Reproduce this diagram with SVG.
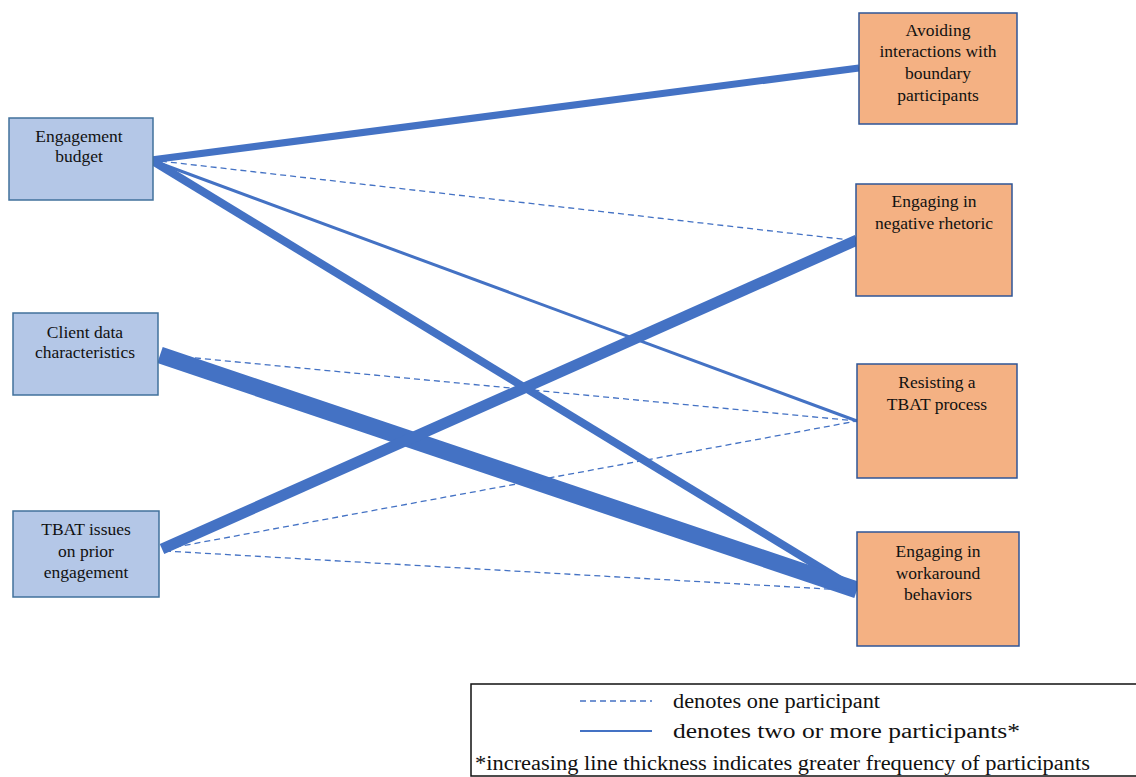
<svg xmlns="http://www.w3.org/2000/svg" width="1136" height="777" viewBox="0 0 1136 777" font-family="'Liberation Serif', 'Times New Roman', serif">
<style>
.l{fill:#B4C7E7;stroke:#41719C;stroke-width:1.5}
.r{fill:#F4B183;stroke:#2F5597;stroke-width:1.5}
text{font-family:'Liberation Serif','Times New Roman',serif;font-size:17.5px;fill:#111}
.c{text-anchor:middle}
.e{stroke:#4472C4;fill:none}
.d{stroke-dasharray:6 4;stroke-width:1.3}
.lg{font-size:20px}
</style>
<rect width="1136" height="777" fill="#fff"/>
<g id="connectors">
<line class="e" x1="151" y1="160" x2="859" y2="68" stroke-width="7"/>
<line class="e d" x1="151" y1="160" x2="850" y2="240"/>
<line class="e" x1="151" y1="160" x2="857" y2="421" stroke-width="3"/>
<line class="e" x1="151" y1="160" x2="857" y2="590" stroke-width="8"/>
<line class="e" x1="160" y1="355" x2="857" y2="590" stroke-width="17"/>
<line class="e d" x1="185" y1="357" x2="857" y2="421"/>
<line class="e" x1="162" y1="549" x2="857" y2="240" stroke-width="11"/>
<line class="e d" x1="165" y1="549" x2="857" y2="421"/>
<line class="e d" x1="165" y1="551" x2="845" y2="590"/>
</g>
<g id="n-budget"><rect class="l" x="9" y="118" width="144" height="82"/><text class="c" x="79" y="142">Engagement</text><text class="c" x="79" y="162">budget</text></g>
<g id="n-client"><rect class="l" x="13" y="313" width="145" height="82"/><text class="c" x="85" y="338">Client data</text><text class="c" x="85" y="358">characteristics</text></g>
<g id="n-tbat"><rect class="l" x="13" y="511" width="146" height="86"/><text class="c" x="86" y="535">TBAT issues</text><text class="c" x="86" y="557">on prior</text><text class="c" x="86" y="578">engagement</text></g>
<g id="n-avoid"><rect class="r" x="859" y="13" width="158" height="111"/><text class="c" x="938" y="36">Avoiding</text><text class="c" x="938" y="57">interactions with</text><text class="c" x="938" y="79">boundary</text><text class="c" x="938" y="101">participants</text></g>
<g id="n-rhet"><rect class="r" x="856" y="184" width="156" height="112"/><text class="c" x="934" y="207">Engaging  in</text><text class="c" x="934" y="229">negative  rhetoric</text></g>
<g id="n-resist"><rect class="r" x="857" y="364" width="160" height="114"/><text class="c" x="937" y="388">Resisting a</text><text class="c" x="937" y="410">TBAT process</text></g>
<g id="n-work"><rect class="r" x="857" y="532" width="162" height="114"/><text class="c" x="938" y="557">Engaging  in</text><text class="c" x="938" y="579">workaround</text><text class="c" x="938" y="600">behaviors</text></g>
<g id="legend">
<rect x="471" y="684" width="670" height="92" fill="#fff" stroke="#111" stroke-width="1.5"/>
<line class="e" x1="580" y1="701" x2="652" y2="701" stroke-dasharray="6 4" stroke-width="1.3"/>
<line class="e" x1="580" y1="731" x2="652" y2="731" stroke-width="1.8"/>
<text class="lg" x="673" y="708" textLength="207" lengthAdjust="spacingAndGlyphs">denotes one participant</text>
<text class="lg" x="673" y="738" textLength="347" lengthAdjust="spacingAndGlyphs">denotes two or more participants*</text>
<text class="lg" x="475" y="770" textLength="615" lengthAdjust="spacingAndGlyphs">*increasing line thickness indicates greater frequency of participants</text>
</g>
</svg>
